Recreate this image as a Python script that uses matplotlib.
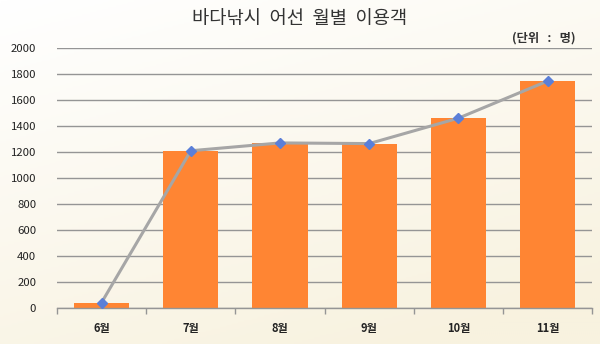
import numpy as np
import matplotlib

matplotlib.use("Agg")
import matplotlib.pyplot as plt
from matplotlib.colors import LinearSegmentedColormap

plt.rcParams["font.family"] = ["Noto Sans CJK KR", "DejaVu Sans"]

months = ["6월", "7월", "8월", "9월", "10월", "11월"]
visitors = [45, 1210, 1270, 1265, 1460, 1745]
y_ticks = [0, 200, 400, 600, 800, 1000, 1200, 1400, 1600, 1800, 2000]

fig = plt.figure(figsize=(6.0, 3.44), dpi=100)

# soft diagonal background: near white at top-left fading to cream
bg = fig.add_axes([0, 0, 1, 1], zorder=0)
yy, xx = np.mgrid[0:1:200j, 0:1:300j]
grad = np.clip(0.75 * yy + 0.35 * xx, 0, 1)
cmap = LinearSegmentedColormap.from_list("cream", ["#FFFFFF", "#F8F2DF"])
bg.imshow(grad, cmap=cmap, aspect="auto", extent=[0, 1, 0, 1], origin="upper")
bg.set_axis_off()

ax = fig.add_axes([0.095, 0.1035, 0.892, 0.7575], zorder=1)
ax.patch.set_alpha(0)

x = np.arange(len(months))
ax.bar(x, visitors, width=0.62, color="#FF8533", zorder=2)
ax.plot(x, visitors, color="#A6A6A6", linewidth=2.2, zorder=3,
        marker="D", markersize=5, markerfacecolor="#5B7FD8", markeredgecolor="#5B7FD8")

ax.set_xlim(-0.5, len(months) - 0.5)
ax.set_ylim(0, 2000)
ax.set_yticks(y_ticks)
ax.set_yticklabels([str(v) for v in y_ticks], fontsize=8.2, color="#222222")
ax.yaxis.grid(True, color="#959595", linewidth=1.0, zorder=1)
ax.set_axisbelow(True)
ax.tick_params(axis="y", length=0, pad=15)

# category labels centred, tick marks on the category boundaries
ax.set_xticks(x)
ax.set_xticklabels(months, fontsize=8, fontweight="bold", color="#222222")
ax.set_xticks(np.arange(-0.5, len(months)), minor=True)
ax.tick_params(axis="x", which="major", length=0, pad=10)
ax.tick_params(axis="x", which="minor", length=4, width=1, color="#959595", direction="out")

for side in ("left", "right", "top"):
    ax.spines[side].set_visible(False)
ax.spines["bottom"].set_color("#959595")
ax.spines["bottom"].set_linewidth(1.0)

fig.text(0.5, 0.945, "바다낚시  어선  월별  이용객", ha="center", va="center",
         fontsize=13.5, color="#333333")
fig.text(0.96, 0.89, "(단위   :   명)", ha="right", va="center",
         fontsize=8.8, color="#333333", fontweight="bold")

fig.savefig("out.png", dpi=100)
